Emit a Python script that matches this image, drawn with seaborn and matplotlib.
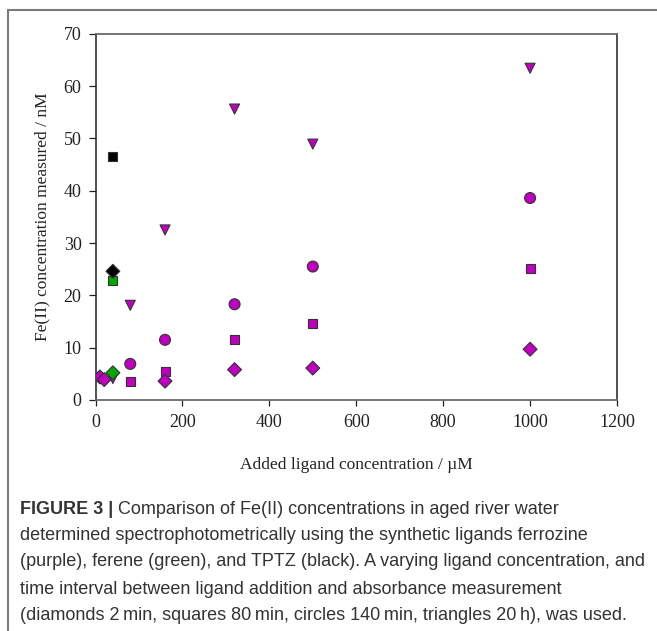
import matplotlib
matplotlib.use("Agg")
import matplotlib.pyplot as plt
from matplotlib.lines import Line2D
import seaborn as sns
import pandas as pd

# ---- data ----
ligand = ["ferrozine", "ferrozine", "ferrozine", "ferrozine", "ferrozine", "ferrozine", "ferrozine",
          "ferrozine", "ferrozine", "ferrozine", "ferrozine", "ferrozine",
          "ferrozine", "ferrozine", "ferrozine", "ferrozine",
          "ferrozine", "ferrozine", "ferrozine", "ferrozine", "ferrozine", "ferrozine",
          "ferene", "ferene", "TPTZ", "TPTZ"]
interval = ["2 min", "2 min", "2 min", "2 min", "2 min", "2 min",
            "80 min", "80 min", "80 min", "80 min", "80 min",
            "140 min",
            "140 min", "140 min", "140 min", "140 min",
            "20 h", "20 h", "20 h", "20 h", "20 h", "20 h",
            "2 min", "80 min", "2 min", "80 min"]
added_uM = [10, 20, 160, 320, 500, 1000,
            80, 160, 320, 500, 1000,
            80,
            160, 320, 500, 1000,
            40, 80, 160, 320, 500, 1000,
            40, 40, 40, 40]
fe2_nM = [4.4, 3.9, 3.6, 5.8, 6.1, 9.7,
          3.6, 5.4, 11.5, 14.6, 25.1,
          6.9,
          11.5, 18.3, 25.5, 38.6,
          4.1, 18.1, 32.5, 55.6, 48.9, 63.4,
          5.2, 22.9, 24.6, 46.6]

x_ticks = [0, 200, 400, 600, 800, 1000, 1200]
y_ticks = [0, 10, 20, 30, 40, 50, 60, 70]

df = pd.DataFrame({"ligand": ligand, "interval": interval,
                   "x": added_uM, "y": fe2_nM})

palette = {"ferrozine": "#C000C0", "ferene": "#00A800", "TPTZ": "#000000"}
markers = {"2 min": "D", "80 min": "s", "140 min": "o", "20 h": "v"}
sizes = {"2 min": 50, "80 min": 42, "140 min": 62, "20 h": 52}

sns.set_theme(style="white")
plt.rcParams["font.family"] = ["Liberation Serif", "DejaVu Serif"]

fig = plt.figure(figsize=(6.57, 6.31), dpi=100)
ax = fig.add_axes([95.5 / 657, 1 - 400 / 631, (617 - 95.5) / 657, (400 - 33.7) / 631])

for t in ["20 h", "140 min", "80 min", "2 min"]:
    sub = df[df["interval"] == t]
    sns.scatterplot(data=sub, x="x", y="y", hue="ligand", palette=palette,
                    marker=markers[t], s=sizes[t], edgecolor="#333333",
                    linewidth=0.8, legend=False, ax=ax, zorder=3)

ax.set_xlim(0, 1200)
ax.set_ylim(0, 70)
ax.set_xticks(x_ticks)
ax.set_yticks(y_ticks)
ax.tick_params(axis="both", which="major", direction="out", labelsize=13,
               colors="#222222", length=4, width=0.9, bottom=True, left=True)
ax.tick_params(axis="y", length=5, pad=5)
ax.tick_params(axis="x", pad=6)
for lab in ax.get_xticklabels() + ax.get_yticklabels():
    lab.set_color("#222222")

for side in ["left", "right"]:
    ax.spines[side].set_color("#222222")
    ax.spines[side].set_linewidth(1.1)
for side in ["top", "bottom"]:
    ax.spines[side].set_color("#6a6a6a")
    ax.spines[side].set_linewidth(1.3)

ax.set_xlabel("Added ligand concentration / \u00b5M", fontsize=12.5, color="#222222")
ax.set_ylabel("Fe(II) concentration measured / nM", fontsize=12.5, color="#222222")
ax.xaxis.set_label_coords(0.5, -(465 - 400) / (400 - 33.7), transform=ax.transAxes)
ax.yaxis.set_label_coords(-(95.5 - 42) / (617 - 95.5), 0.5)
ax.xaxis.label.set_va("center")
ax.yaxis.label.set_va("center")

# outer frame (left and top edges)
fig.add_artist(Line2D([8 / 657, 8 / 657], [0, 1 - 10 / 631], transform=fig.transFigure,
                      color="#7a7a7a", lw=1.5))
fig.add_artist(Line2D([8 / 657, 1], [1 - 10 / 631, 1 - 10 / 631], transform=fig.transFigure,
                      color="#7a7a7a", lw=1.5))

# caption
cap_font = ["Liberation Sans", "DejaVu Sans"]
cap_color = "#333333"
cap_size = 13
lines = [
    " Comparison of Fe(II) concentrations in aged river water",
    "determined spectrophotometrically using the synthetic ligands ferrozine",
    "(purple), ferene (green), and TPTZ (black). A varying ligand concentration, and",
    "time interval between ligand addition and absorbance measurement",
    "(diamonds 2\u2009min, squares 80\u2009min, circles 140\u2009min, triangles 20\u2009h), was used.",
]
ys = [509, 536, 562, 589, 615]
x0 = 20 / 657
bold = fig.text(x0, 1 - ys[0] / 631, "FIGURE 3 |", fontsize=cap_size, fontweight="bold",
                family=cap_font, color=cap_color, va="center", ha="left")
fig.canvas.draw()
bb = bold.get_window_extent(renderer=fig.canvas.get_renderer())
x1 = bb.x1 / fig.bbox.width
fig.text(x1, 1 - ys[0] / 631, lines[0], fontsize=cap_size, family=cap_font,
         color=cap_color, va="center", ha="left")
for ln, yy in zip(lines[1:], ys[1:]):
    fig.text(x0, 1 - yy / 631, ln, fontsize=cap_size, family=cap_font,
             color=cap_color, va="center", ha="left")

fig.savefig("out.png", dpi=100)
